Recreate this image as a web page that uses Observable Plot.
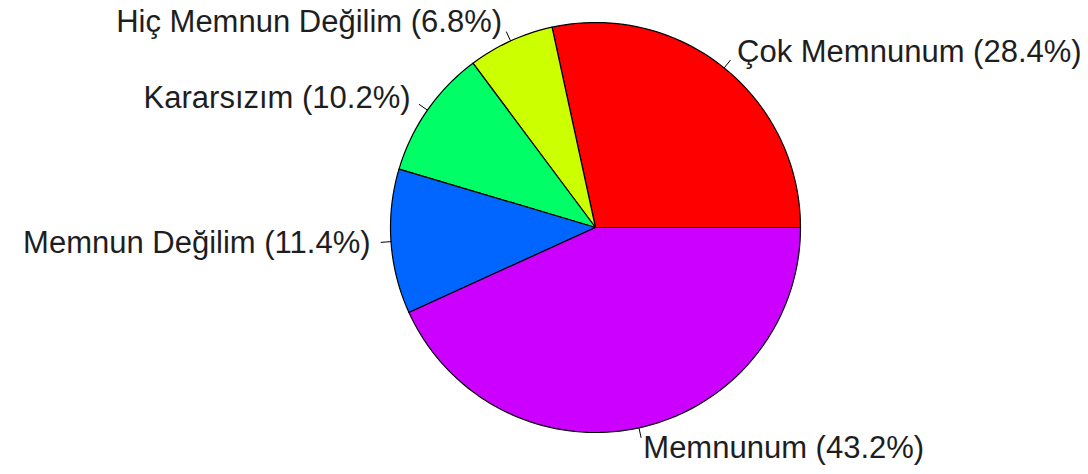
<!DOCTYPE html>
<html>
<head>
<meta charset="utf-8">
<script src="https://cdn.jsdelivr.net/npm/d3@7"></script>
<script src="https://cdn.jsdelivr.net/npm/@observablehq/plot@0.6"></script>
<style>
  html, body { margin: 0; padding: 0; background: #fff; }
  #chart svg { display: block; }
</style>
</head>
<body>
<div id="chart"></div>
<script>
const categories = ["Çok Memnunum", "Hiç Memnun Değilim", "Kararsızım", "Memnun Değilim", "Memnunum"];
const percents = [28.4, 6.8, 10.2, 11.4, 43.2];
const percentLabels = ["28.4%", "6.8%", "10.2%", "11.4%", "43.2%"];

const sliceColors = ["#FF0000", "#CCFF00", "#00FF66", "#0066FF", "#CC00FF"];

const W = 1088, H = 474;
const cx = 595, cy = 227, R = 205;

const total = d3.sum(percents);
let cum = 0;
const slices = categories.map((c, i) => {
  const a0 = cum / total * 2 * Math.PI;
  cum += percents[i];
  const a1 = cum / total * 2 * Math.PI;
  return {cat: c, a0, a1, mid: (a0 + a1) / 2, label: `${c} (${percentLabels[i]})`};
});

// polygon points for each slice (R pie uses 200 edges for full circle)
const polyPts = [];
for (const s of slices) {
  const n = Math.max(2, Math.floor(200 * (s.a1 - s.a0) / (2 * Math.PI)));
  polyPts.push({cat: s.cat, x: 0, y: 0});
  for (let k = 0; k <= n; k++) {
    const t = s.a0 + (s.a1 - s.a0) * k / n;
    polyPts.push({cat: s.cat, x: Math.cos(t), y: Math.sin(t)});
  }
}

const ticks = slices.map(s => ({
  x1: Math.cos(s.mid), y1: Math.sin(s.mid),
  x2: 1.05 * Math.cos(s.mid), y2: 1.05 * Math.sin(s.mid)
}));
const labels = slices.map(s => ({
  x: 1.1 * Math.cos(s.mid), y: 1.1 * Math.sin(s.mid), text: s.label, right: Math.cos(s.mid) >= 0
}));

const textStyle = {fontSize: 31, fontFamily: "Liberation Sans, Arial, sans-serif", fill: "#1e1e1e"};

const chart = Plot.plot({
  width: W,
  height: H,
  margin: 0,
  x: {domain: [-cx / R, (W - cx) / R], axis: null},
  y: {domain: [-(H - cy) / R, cy / R], axis: null},
  color: {type: "ordinal", domain: categories, range: sliceColors},
  marks: [
    Plot.line(polyPts, {x: "x", y: "y", z: "cat", fill: "cat", stroke: "#000", strokeWidth: 1.2, curve: "linear-closed"}),
    Plot.link(ticks, {x1: "x1", y1: "y1", x2: "x2", y2: "y2", stroke: "#000", strokeWidth: 1}),
    Plot.text(labels.filter(d => d.right), {x: "x", y: "y", text: "text", textAnchor: "start", ...textStyle}),
    Plot.text(labels.filter(d => !d.right), {x: "x", y: "y", text: "text", textAnchor: "end", ...textStyle})
  ]
});
document.getElementById("chart").appendChild(chart);
</script>
</body>
</html>
